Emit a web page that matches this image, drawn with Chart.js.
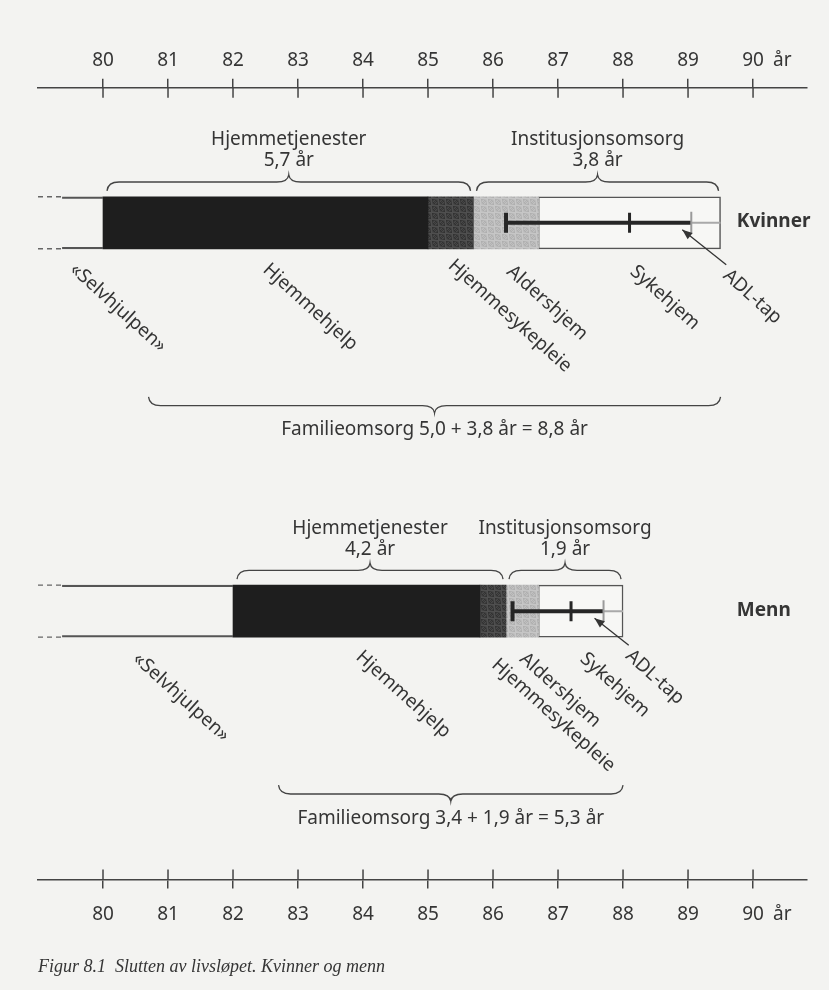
<!DOCTYPE html>
<html lang="no">
<head>
<meta charset="utf-8">
<title>Slutten av livsløpet</title>
<script src="https://cdn.jsdelivr.net/npm/chart.js@4.4.0/dist/chart.umd.min.js"></script>
<style>
body{margin:0;background:#f3f3f1}
canvas{display:block}
</style>
</head>
<body>
<canvas id="chart" width="829" height="990"></canvas>
<script>
/* alder (år) på aksene */
const tickAges = [80,81,82,83,84,85,86,87,88,89,90];

/* to rader: kvinner og menn */
const groups        = ['Kvinner','Menn'];
const segNames      = ['Hjemmehjelp','Hjemmesykepleie','Aldershjem','Sykehjem'];
const selvEnd       = [80.0, 82.0];   // slutt på «Selvhjulpen»
const hjemmehjelpEnd= [85.0, 85.8];
const sykepleieEnd  = [85.7, 86.2];
const aldershjemEnd = [86.7, 86.7];
const livEnd        = [89.5, 88.0];

/* strek i institusjonsdelen: start, merke, ADL-tap */
const instStart = [86.2, 86.3];
const instMid   = [88.1, 87.2];
const adlTap    = [89.05, 87.7];

/* klammer */
const hjemmeYears = ['5,7 år','4,2 år'];
const instYears   = ['3,8 år','1,9 år'];
const famStart    = [80.7, 82.7];
const famText     = ['Familieomsorg 5,0 + 3,8 år = 8,8 år','Familieomsorg 3,4 + 1,9 år = 5,3 år'];

/* ---- layout (ikke data) ---- */
const X_MIN = 79.0, X_MAX = 90.83, DASH_END = 79.37;
const rowY = [17.05, 66.1];
const BAR = 52;
const FONT = '"Noto Sans", sans-serif';
const INK = '#353535';
const ANGLE = 42 * Math.PI / 180;
const rotLabels = ['«Selvhjulpen»', ...segNames, 'ADL-tap'];
const rotX  = [[79.63, 82.6, 85.45, 86.35, 88.25, 89.68], [80.6, 84.03, 86.12, 86.55, 87.48, 88.18]];
const rotDy = [[37, 37, 33, 39, 39, 43], [38, 36, 44, 38, 38, 35]];

const rows = (a,b)=>groups.map((g,i)=>({x:[a[i], b[i]], y:rowY[i]}));
const leftEdge = groups.map(()=>DASH_END);

/* kornet flate (fast mønster) */
function grain(base, amp){
  const c = document.createElement('canvas'); c.width = c.height = 7;
  const g = c.getContext('2d');
  for(let i=0;i<7;i++) for(let j=0;j<7;j++){
    const v = Math.max(0, Math.min(255, base + (((i*5 + j*3 + i*j) % 7) - 3) * amp));
    g.fillStyle = `rgb(${v},${v},${v})`; g.fillRect(i,j,1,1);
  }
  return g.createPattern(c, 'repeat');
}

const bars = [
  {label:'Selvhjulpen', data:rows(leftEdge, selvEnd), backgroundColor:'rgba(0,0,0,0)',
   borderColor:'#555', borderWidth:{top:1.5,bottom:1.5,left:0,right:0}},
  {label:segNames[0], data:rows(selvEnd, hjemmehjelpEnd), backgroundColor:'#1e1e1e'},
  {label:segNames[1], data:rows(hjemmehjelpEnd, sykepleieEnd), backgroundColor:grain(64, 5)},
  {label:segNames[2], data:rows(sykepleieEnd, aldershjemEnd), backgroundColor:grain(186, 4)},
  {label:segNames[3], data:rows(aldershjemEnd, livEnd), backgroundColor:'#f7f7f5',
   borderColor:'#555', borderWidth:{top:1.5,bottom:1.5,left:1.2,right:1.5}}
].map(d=>Object.assign({type:'bar', order:1, grouped:false, borderSkipped:false,
  maxBarThickness:BAR, barThickness:BAR}, d));

const lines = [];
groups.forEach((g,i)=>{
  lines.push({type:'line', order:0, label:'tap '+g,
    data:[{x:adlTap[i], y:rowY[i]}, {x:livEnd[i], y:rowY[i]}],
    borderColor:'#a9a9a9', borderWidth:2, pointStyle:'line', pointRotation:90,
    pointRadius:[11,0], pointBorderColor:'#9a9a9a', pointBorderWidth:2});
  lines.push({type:'line', order:0, label:'inst '+g,
    data:[{x:instStart[i], y:rowY[i]}, {x:instMid[i], y:rowY[i]}, {x:adlTap[i], y:rowY[i]}],
    borderColor:'#262626', borderWidth:4, pointStyle:'line', pointRotation:90,
    pointRadius:10, pointBorderColor:'#262626', pointBorderWidth:[4,3,0]});
});

function brace(ctx, x1, x2, yb, dir){
  const h = 16, ym = yb + dir*h*0.55, yt = yb + dir*h, xm = (x1+x2)/2;
  ctx.beginPath();
  ctx.moveTo(x1, yb);
  ctx.quadraticCurveTo(x1+1, ym, x1+12, ym);
  ctx.lineTo(xm-12, ym);
  ctx.quadraticCurveTo(xm-1, ym, xm, yt);
  ctx.quadraticCurveTo(xm+1, ym, xm+12, ym);
  ctx.lineTo(x2-12, ym);
  ctx.quadraticCurveTo(x2-1, ym, x2, yb);
  ctx.stroke();
}

const bg = {
  id:'bg',
  beforeDraw(chart){
    const c = chart.ctx;
    c.save(); c.fillStyle = '#f3f3f1'; c.fillRect(0,0,chart.width,chart.height); c.restore();
  }
};

const annot = {
  id:'annot',
  afterDatasetsDraw(chart){
    const {ctx, chartArea:a} = chart;
    const x = chart.scales.x, y = chart.scales.y;
    const line = (x1,y1,x2,y2)=>{ctx.beginPath();ctx.moveTo(x1,y1);ctx.lineTo(x2,y2);ctx.stroke();};
    ctx.save();
    ctx.strokeStyle = '#444'; ctx.fillStyle = INK; ctx.lineWidth = 1.5;

    /* indre halvdel av merkene */
    tickAges.forEach(v=>{
      const px = x.getPixelForValue(v);
      line(px, a.top, px, a.top+10);
      line(px, a.bottom-10, px, a.bottom);
    });
    ctx.font = `19px ${FONT}`; ctx.textAlign = 'left'; ctx.textBaseline = 'middle';
    const p90 = x.getPixelForValue(tickAges[tickAges.length-1]);
    ctx.fillText('år', p90+20, a.top-27);
    ctx.fillText('år', p90+20, a.bottom+35);

    groups.forEach((g,i)=>{
      const cy = y.getPixelForValue(rowY[i]);
      /* stiplet start */
      ctx.save();
      ctx.setLineDash([5,4]); ctx.strokeStyle = '#666';
      line(x.getPixelForValue(X_MIN), cy-BAR/2, x.getPixelForValue(DASH_END), cy-BAR/2);
      line(x.getPixelForValue(X_MIN), cy+BAR/2, x.getPixelForValue(DASH_END), cy+BAR/2);
      ctx.restore();

      /* gruppenavn */
      ctx.font = `bold 19px ${FONT}`; ctx.textAlign = 'left'; ctx.textBaseline = 'middle';
      ctx.fillText(g, x.getPixelForValue(89.75), cy-1);

      /* klammer over */
      ctx.lineWidth = 1.3;
      ctx.font = `19px ${FONT}`; ctx.textAlign = 'center';
      const h1 = x.getPixelForValue(selvEnd[i])+4, h2 = x.getPixelForValue(sykepleieEnd[i])-3;
      const i1 = x.getPixelForValue(sykepleieEnd[i])+3, i2 = x.getPixelForValue(livEnd[i])-2;
      brace(ctx, h1, h2, cy-32, -1);
      brace(ctx, i1, i2, cy-32, -1);
      ctx.fillText('Hjemmetjenester', (h1+h2)/2, cy-83);
      ctx.fillText(hjemmeYears[i], (h1+h2)/2, cy-62);
      ctx.fillText('Institusjonsomsorg', (i1+i2)/2, cy-83);
      ctx.fillText(instYears[i], (i1+i2)/2, cy-62);

      /* familieomsorg */
      const f1 = x.getPixelForValue(famStart[i]), f2 = x.getPixelForValue(livEnd[i]);
      brace(ctx, f1, f2, cy+174, 1);
      ctx.fillText(famText[i], (f1+f2)/2, cy+207);

      /* skrå etiketter */
      ctx.textAlign = 'left'; ctx.textBaseline = 'top';
      rotLabels.forEach((t,k)=>{
        ctx.save();
        ctx.translate(x.getPixelForValue(rotX[i][k]), cy+rotDy[i][k]);
        ctx.rotate(ANGLE);
        ctx.fillText(t, 0, 0);
        ctx.restore();
      });

      /* pil til ADL-tap */
      const hx = x.getPixelForValue(adlTap[i])-9, hy = cy+7;
      const tx = x.getPixelForValue(rotX[i][5])-6, ty = cy+rotDy[i][5]-1;
      ctx.lineWidth = 1.3; ctx.strokeStyle = '#333';
      line(tx, ty, hx, hy);
      const ang = Math.atan2(hy-ty, hx-tx);
      ctx.beginPath();
      ctx.moveTo(hx, hy);
      ctx.lineTo(hx-10*Math.cos(ang)+4*Math.sin(ang), hy-10*Math.sin(ang)-4*Math.cos(ang));
      ctx.lineTo(hx-10*Math.cos(ang)-4*Math.sin(ang), hy-10*Math.sin(ang)+4*Math.cos(ang));
      ctx.closePath(); ctx.fill();
      ctx.strokeStyle = '#444';
    });
    ctx.restore();
  }
};

const axisOpts = pos=>({
  type:'linear', position:pos, min:X_MIN, max:X_MAX,
  afterBuildTicks:s=>{ s.ticks = tickAges.map(v=>({value:v})); },
  grid:{drawOnChartArea:false, drawTicks:true, tickLength:9, color:'#444', lineWidth:1.5},
  border:{display:true, color:'#444', width:1.6},
  ticks:{color:INK, font:{family:FONT, size:19}, padding:pos==='top'?7:15, maxRotation:0,
         callback:v=>String(v)}
});

new Chart(document.getElementById('chart'), {
  type:'bar',
  data:{datasets:[...bars, ...lines]},
  options:{
    responsive:false, animation:false, indexAxis:'y',
    layout:{padding:{top:42, left:38, right:22, bottom:0}},
    scales:{
      x:axisOpts('top'),
      x2:axisOpts('bottom'),
      y:{type:'linear', display:false, offset:false, min:0, max:100, reverse:true, ticks:{stepSize:25}}
    },
    plugins:{
      legend:{display:false}, tooltip:{enabled:false},
      title:{display:true, position:'bottom', align:'start', color:INK,
             text:'Figur 8.1  Slutten av livsløpet. Kvinner og menn',
             font:{family:'"Liberation Serif", serif', style:'italic', size:18, weight:'normal'},
             padding:{top:15, bottom:12}}
    }
  },
  plugins:[bg, annot]
});
</script>
</body>
</html>
